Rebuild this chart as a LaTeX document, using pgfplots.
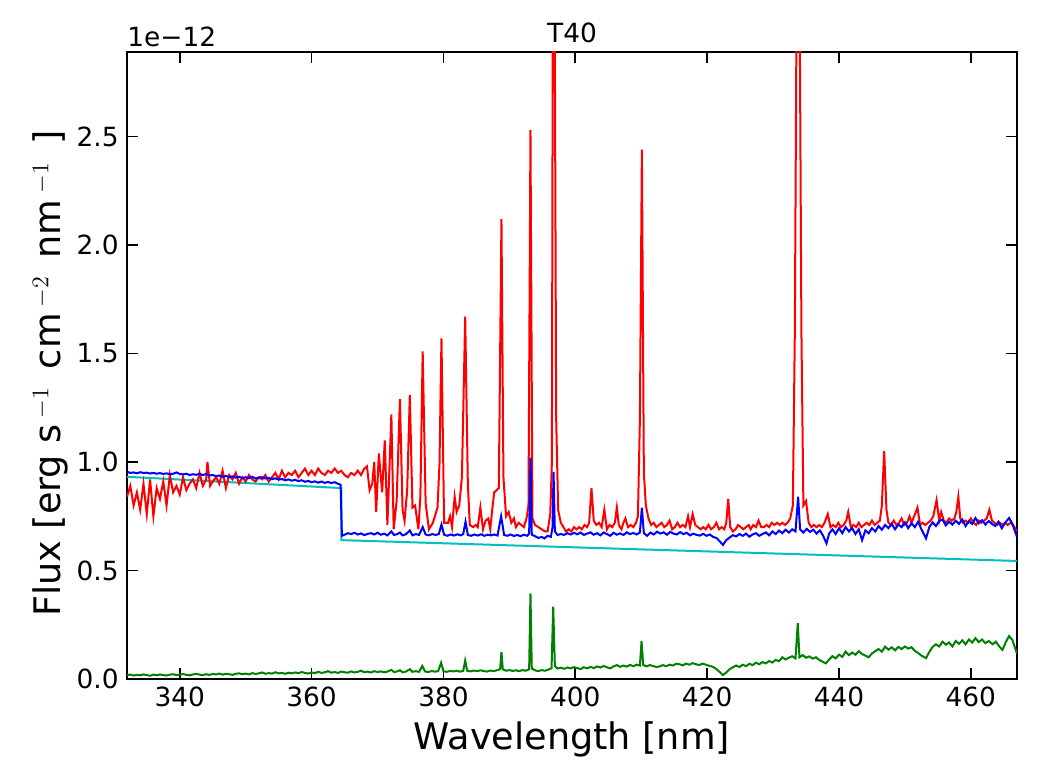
\documentclass[border=0pt]{standalone}
\usepackage{pgfplots}
\pgfplotsset{compat=1.18}
\usepackage{pgfplotstable}
\usepackage{fontspec}
\setmainfont{DejaVu Sans}
\definecolor{mplred}{rgb}{1,0,0}
\definecolor{mplblue}{rgb}{0,0,1}
\definecolor{mplgreen}{rgb}{0,0.5,0}
\definecolor{mplcyan}{rgb}{0,0.75,0.75}

\pgfplotstableread{
x y
332.0 0.932
364.5 0.880
364.5 0.640
467.0 0.544
}\cyantab

\pgfplotstableread{
x y
332.0 0.84
332.5 0.89
333.0 0.80
333.5 0.86
334.0 0.78
334.5 0.90
335.0 0.76
335.5 0.92
336.0 0.75
336.5 0.88
337.0 0.83
337.5 0.91
338.0 0.80
338.5 0.94
339.0 0.86
339.5 0.89
340.0 0.85
340.5 0.93
341.0 0.87
341.5 0.90
342.0 0.92
342.5 0.88
343.0 0.95
343.5 0.89
344.0 0.92
344.2 1.00
344.6 0.89
345.0 0.91
345.5 0.93
346.0 0.90
346.5 0.96
347.0 0.88
347.5 0.94
348.0 0.92
348.5 0.95
349.0 0.90
349.5 0.93
350.0 0.91
350.5 0.94
351.0 0.92
351.5 0.91
352.0 0.93
352.5 0.92
353.0 0.94
353.5 0.91
354.0 0.93
354.5 0.95
355.0 0.92
355.5 0.96
356.0 0.93
356.5 0.95
357.0 0.94
357.5 0.96
358.0 0.93
358.5 0.95
359.0 0.97
359.5 0.94
360.0 0.96
360.5 0.94
361.0 0.97
361.5 0.95
362.0 0.94
362.5 0.96
363.0 0.95
363.5 0.97
364.0 0.95
364.5 0.96
365.0 0.94
365.5 0.93
366.0 0.95
366.5 0.94
367.0 0.96
367.5 0.94
368.0 0.97
368.4 0.98
368.8 0.87
369.2 0.90
369.5 1.00
369.8 0.77
370.2 1.04
370.7 0.86
371.1 1.10
371.5 0.71
372.1 1.22
372.45 0.69
372.9 0.82
373.4 1.29
373.8 0.78
374.1 0.73
374.5 0.87
374.9 1.31
375.3 0.79
375.7 0.80
376.2 0.69
376.5 0.84
376.85 1.51
377.3 0.81
377.8 0.69
378.4 0.72
379.1 0.79
379.4 0.99
379.7 1.57
380.1 0.72
380.7 0.72
381.0 0.75
381.3 0.70
381.7 0.84
382.0 0.77
382.4 0.80
382.8 0.93
383.3 1.67
383.7 0.90
384.0 0.71
384.5 0.70
384.9 0.71
385.2 0.70
385.6 0.79
386.0 0.69
386.4 0.73
386.8 0.74
387.1 0.69
387.4 0.78
387.7 0.86
388.4 0.88
388.8 2.12
389.1 0.93
389.5 0.75
389.9 0.77
390.3 0.72
390.7 0.74
391.0 0.70
391.4 0.72
391.8 0.71
392.2 0.70
392.6 0.74
392.9 0.80
393.2 2.53
393.5 0.74
393.9 0.71
394.4 0.70
394.9 0.69
395.4 0.68
395.8 0.68
396.2 0.76
396.45 1.00
396.6 3.30
396.85 3.30
397.1 1.20
397.4 0.78
397.8 0.72
398.2 0.70
398.6 0.68
399.0 0.69
399.4 0.68
399.8 0.70
400.2 0.69
400.6 0.70
401.0 0.69
401.4 0.71
401.8 0.70
402.1 0.72
402.45 0.88
402.8 0.73
403.2 0.71
403.6 0.72
404.0 0.70
404.4 0.78
404.8 0.69
405.2 0.71
405.6 0.70
406.0 0.72
406.3 0.79
406.6 0.71
407.0 0.69
407.3 0.72
407.6 0.74
408.0 0.70
408.4 0.71
408.8 0.70
409.2 0.72
409.5 0.75
409.8 1.20
410.1 2.44
410.4 0.95
410.7 0.80
411.1 0.74
411.5 0.71
411.9 0.72
412.3 0.70
412.7 0.71
413.1 0.72
413.5 0.70
413.9 0.71
414.3 0.73
414.7 0.69
415.1 0.70
415.5 0.72
415.9 0.70
416.3 0.71
416.7 0.70
417.1 0.75
417.4 0.70
417.8 0.76
418.2 0.71
418.6 0.70
419.0 0.69
419.4 0.70
419.8 0.69
420.2 0.71
420.6 0.69
421.0 0.70
421.4 0.72
421.8 0.69
422.2 0.70
422.6 0.69
422.9 0.72
423.2 0.83
423.5 0.70
423.9 0.68
424.3 0.69
424.7 0.71
425.1 0.70
425.5 0.69
425.9 0.70
426.3 0.71
426.6 0.69
427.0 0.71
427.4 0.70
427.8 0.73
428.2 0.70
428.6 0.70
429.0 0.71
429.4 0.70
429.8 0.72
430.2 0.71
430.6 0.72
431.0 0.71
431.4 0.72
431.8 0.71
432.2 0.72
432.6 0.74
433.0 0.80
433.3 1.60
433.6 3.30
434.0 3.30
434.3 1.60
434.6 0.80
435.0 0.82
435.4 0.72
435.8 0.70
436.2 0.71
436.6 0.70
437.0 0.71
437.4 0.70
437.8 0.72
438.3 0.76
438.7 0.70
439.1 0.71
439.5 0.70
439.9 0.72
440.3 0.70
440.7 0.71
441.1 0.73
441.4 0.77
441.8 0.70
442.2 0.71
442.6 0.70
443.0 0.72
443.4 0.70
443.8 0.71
444.2 0.72
444.6 0.71
445.0 0.73
445.4 0.71
445.8 0.72
446.2 0.73
446.5 0.80
446.85 1.05
447.2 0.78
447.5 0.72
447.9 0.71
448.3 0.73
448.7 0.71
449.1 0.72
449.5 0.74
449.9 0.71
450.3 0.72
450.7 0.75
451.0 0.72
451.4 0.75
451.9 0.79
452.3 0.71
452.7 0.72
453.1 0.71
453.5 0.72
453.9 0.73
454.3 0.75
454.8 0.825
455.2 0.73
455.5 0.77
455.9 0.73
456.3 0.72
456.7 0.74
457.1 0.73
457.5 0.74
457.8 0.77
458.1 0.84
458.4 0.74
458.8 0.72
459.2 0.73
459.6 0.72
460.0 0.74
460.4 0.72
460.8 0.71
461.2 0.73
461.6 0.72
462.0 0.73
462.4 0.74
462.8 0.78
463.2 0.73
463.6 0.72
464.0 0.71
464.4 0.72
464.8 0.71
465.2 0.72
465.6 0.71
466.0 0.72
466.4 0.71
467.0 0.68
}\redtab

\pgfplotstableread{
x y
332.0 0.955
332.5 0.950
333.0 0.952
333.5 0.948
334.0 0.953
334.5 0.950
335.0 0.951
335.5 0.947
336.0 0.950
336.5 0.946
337.0 0.949
337.5 0.945
338.0 0.948
338.5 0.944
339.0 0.946
339.5 0.952
340.0 0.945
340.5 0.943
341.0 0.946
341.5 0.940
342.0 0.944
342.5 0.941
343.0 0.946
343.5 0.940
344.0 0.945
344.5 0.938
345.0 0.940
345.5 0.935
346.0 0.938
346.5 0.932
347.0 0.936
347.5 0.930
348.0 0.934
348.5 0.928
349.0 0.932
349.5 0.926
350.0 0.930
350.5 0.925
351.0 0.932
351.5 0.924
352.0 0.928
352.5 0.930
353.0 0.924
353.5 0.927
354.0 0.921
354.5 0.925
355.0 0.919
355.5 0.922
356.0 0.916
356.5 0.920
357.0 0.914
357.5 0.918
358.0 0.912
358.5 0.916
359.0 0.909
359.5 0.913
360.0 0.907
360.5 0.911
361.0 0.905
361.5 0.910
362.0 0.904
362.5 0.908
363.0 0.903
363.5 0.907
364.0 0.900
364.4 0.895
364.6 0.660
365.0 0.665
365.5 0.672
366.0 0.668
366.5 0.674
367.0 0.666
367.5 0.671
368.0 0.663
368.5 0.669
369.0 0.672
369.5 0.666
370.0 0.674
370.5 0.665
371.0 0.670
371.5 0.662
372.1 0.680
372.5 0.664
373.0 0.668
373.4 0.675
373.8 0.662
374.3 0.667
374.9 0.685
375.3 0.662
375.8 0.668
376.3 0.664
376.85 0.700
377.3 0.666
377.8 0.662
378.3 0.668
378.8 0.664
379.3 0.668
379.7 0.712
380.1 0.665
380.6 0.660
381.1 0.666
381.6 0.661
382.1 0.667
382.6 0.662
383.0 0.668
383.35 0.725
383.7 0.664
384.2 0.660
384.7 0.666
385.2 0.661
385.7 0.667
386.2 0.660
386.7 0.665
387.2 0.662
387.7 0.666
388.2 0.661
388.75 0.750
389.2 0.664
389.7 0.660
390.2 0.666
390.7 0.659
391.2 0.664
391.7 0.658
392.2 0.665
392.7 0.660
393.0 0.670
393.2 1.020
393.4 0.665
393.9 0.658
394.4 0.650
394.9 0.655
395.3 0.648
395.8 0.660
396.3 0.655
396.55 0.700
396.7 0.955
396.9 0.680
397.3 0.664
397.8 0.668
398.3 0.664
398.8 0.672
399.3 0.666
399.8 0.674
400.3 0.667
400.8 0.675
401.3 0.664
401.8 0.670
402.3 0.676
402.8 0.665
403.3 0.672
403.8 0.662
404.3 0.675
404.8 0.668
405.3 0.660
405.8 0.674
406.3 0.665
406.8 0.671
407.3 0.664
407.8 0.676
408.3 0.668
408.8 0.673
409.3 0.666
409.8 0.675
410.1 0.790
410.4 0.672
410.9 0.660
411.4 0.675
411.9 0.666
412.4 0.679
412.9 0.670
413.4 0.676
413.9 0.665
414.4 0.678
414.9 0.670
415.4 0.666
415.9 0.677
416.4 0.668
416.9 0.674
417.4 0.662
417.9 0.670
418.4 0.664
418.9 0.661
419.4 0.669
419.9 0.660
420.4 0.666
420.9 0.655
421.4 0.650
421.9 0.635
422.4 0.618
422.9 0.640
423.4 0.652
423.9 0.663
424.4 0.657
424.9 0.668
425.4 0.660
425.9 0.670
426.4 0.656
426.9 0.666
427.4 0.672
427.9 0.660
428.4 0.668
428.9 0.676
429.4 0.662
429.9 0.680
430.4 0.668
430.9 0.684
431.4 0.672
431.9 0.688
432.4 0.675
432.9 0.690
433.4 0.680
433.8 0.840
434.1 0.690
434.6 0.675
435.1 0.692
435.6 0.678
436.1 0.688
436.6 0.670
437.1 0.685
437.6 0.660
438.1 0.625
438.5 0.670
439.0 0.690
439.5 0.668
440.0 0.695
440.5 0.672
441.0 0.700
441.5 0.680
442.0 0.695
442.5 0.668
443.0 0.690
443.5 0.640
444.0 0.685
444.5 0.672
445.0 0.695
445.5 0.680
446.0 0.705
446.5 0.688
447.0 0.710
447.5 0.695
448.0 0.715
448.5 0.690
449.0 0.712
449.5 0.700
450.0 0.722
450.5 0.695
451.0 0.718
451.5 0.700
452.0 0.725
452.5 0.690
453.2 0.648
453.7 0.700
454.2 0.722
454.7 0.705
455.2 0.728
455.7 0.735
456.2 0.708
456.7 0.725
457.2 0.712
457.7 0.730
458.2 0.715
458.7 0.735
459.2 0.705
459.7 0.728
460.2 0.715
460.7 0.742
461.2 0.718
461.7 0.732
462.2 0.712
462.7 0.728
463.2 0.715
463.7 0.705
464.2 0.725
464.7 0.695
465.2 0.720
465.8 0.742
466.3 0.715
467.0 0.655
}\bluetab

\pgfplotstableread{
x y
332.0 0.018
332.5 0.020
333.0 0.016
333.5 0.019
334.0 0.017
334.5 0.021
335.0 0.018
335.5 0.015
336.0 0.020
336.5 0.017
337.0 0.021
337.5 0.018
338.0 0.016
338.5 0.020
339.0 0.022
339.5 0.018
340.0 0.020
340.5 0.023
341.0 0.019
341.5 0.017
342.0 0.021
342.5 0.024
343.0 0.020
343.5 0.018
344.0 0.022
344.5 0.019
345.0 0.023
345.5 0.021
346.0 0.025
346.5 0.020
347.0 0.024
347.5 0.022
348.0 0.019
348.5 0.024
349.0 0.026
349.5 0.022
350.0 0.025
350.5 0.021
351.0 0.027
351.5 0.023
352.0 0.026
352.5 0.030
353.0 0.024
353.5 0.027
354.0 0.025
354.5 0.031
355.0 0.026
355.5 0.028
356.0 0.024
356.5 0.029
357.0 0.026
357.5 0.030
358.0 0.027
358.5 0.032
359.0 0.028
359.5 0.025
360.0 0.030
360.5 0.027
361.0 0.033
361.5 0.028
362.0 0.031
362.5 0.036
363.0 0.029
363.5 0.032
364.0 0.028
364.5 0.034
365.0 0.031
365.5 0.029
366.0 0.035
366.5 0.030
367.0 0.033
367.5 0.038
368.0 0.031
368.5 0.034
369.0 0.030
369.5 0.036
370.0 0.032
370.5 0.035
371.0 0.031
371.5 0.034
372.1 0.042
372.5 0.032
373.0 0.035
373.4 0.040
373.8 0.031
374.3 0.034
374.9 0.045
375.3 0.033
375.8 0.036
376.3 0.033
376.8 0.060
377.2 0.035
377.7 0.032
378.2 0.037
378.7 0.034
379.2 0.036
379.65 0.075
380.0 0.036
380.5 0.033
381.0 0.037
381.5 0.035
382.0 0.038
382.5 0.034
383.0 0.037
383.3 0.085
383.6 0.038
384.1 0.035
384.6 0.039
385.1 0.036
385.6 0.040
386.1 0.037
386.6 0.034
387.1 0.039
387.6 0.036
388.1 0.040
388.6 0.045
388.8 0.125
389.0 0.045
389.5 0.038
390.0 0.041
390.5 0.037
391.0 0.040
391.5 0.036
392.0 0.041
392.5 0.038
393.0 0.045
393.2 0.395
393.4 0.048
393.9 0.040
394.4 0.036
394.9 0.041
395.4 0.038
395.9 0.043
396.4 0.050
396.65 0.333
396.9 0.060
397.3 0.048
397.8 0.052
398.3 0.047
398.8 0.053
399.3 0.049
399.8 0.055
400.3 0.050
400.8 0.046
401.3 0.054
401.8 0.049
402.3 0.056
402.8 0.050
403.3 0.058
403.8 0.053
404.3 0.060
404.8 0.054
405.3 0.049
405.8 0.058
406.3 0.064
406.8 0.056
407.3 0.062
407.8 0.057
408.3 0.065
408.8 0.059
409.3 0.066
409.8 0.062
410.05 0.175
410.3 0.065
410.8 0.058
411.3 0.064
411.8 0.060
412.3 0.055
412.8 0.058
413.3 0.064
413.8 0.059
414.3 0.066
414.8 0.062
415.3 0.070
415.8 0.068
416.3 0.063
416.8 0.071
417.3 0.066
417.8 0.073
418.3 0.068
418.8 0.064
419.3 0.071
419.8 0.066
420.3 0.061
420.8 0.057
421.3 0.048
421.8 0.035
422.4 0.018
422.9 0.030
423.4 0.045
423.9 0.054
424.4 0.062
424.9 0.055
425.4 0.066
425.9 0.059
426.4 0.070
426.9 0.064
427.4 0.075
427.9 0.068
428.4 0.078
428.9 0.072
429.4 0.083
429.9 0.076
430.4 0.088
430.9 0.082
431.4 0.100
431.9 0.090
432.4 0.098
432.9 0.105
433.4 0.095
433.75 0.257
434.0 0.100
434.5 0.110
435.0 0.098
435.5 0.104
436.0 0.094
436.5 0.100
437.0 0.088
437.5 0.080
438.0 0.072
438.5 0.090
439.0 0.105
439.5 0.095
440.0 0.112
440.5 0.102
441.0 0.126
441.5 0.110
442.0 0.122
442.5 0.112
443.0 0.128
443.5 0.115
444.0 0.108
444.5 0.100
445.0 0.118
445.5 0.128
446.0 0.138
446.5 0.126
447.0 0.149
447.5 0.135
448.0 0.146
448.5 0.132
449.0 0.148
449.5 0.138
450.0 0.150
450.5 0.140
451.0 0.146
451.5 0.130
452.0 0.120
452.5 0.108
453.2 0.096
453.7 0.125
454.2 0.148
454.7 0.160
455.2 0.150
455.7 0.172
456.2 0.158
456.7 0.168
457.2 0.150
457.7 0.175
458.2 0.162
458.7 0.178
459.2 0.160
459.7 0.182
460.2 0.168
460.7 0.188
461.2 0.170
461.7 0.182
462.2 0.165
462.7 0.175
463.3 0.160
463.8 0.172
464.3 0.150
464.8 0.134
465.3 0.170
465.8 0.198
466.3 0.180
467.0 0.117
}\greentab

\begin{document}
\begin{tikzpicture}
\useasboundingbox (-63.5pt,-50.5pt) rectangle (456.5pt,339.5pt);
\begin{axis}[
  at={(0pt,0pt)}, anchor=south west,
  scale only axis, width=445pt, height=313.5pt,
  xmin=332, xmax=467, ymin=0, ymax=2.89,
  xtick={340,360,380,400,420,440,460},
  ytick={0,0.5,1,1.5,2,2.5},
  yticklabel style={/pgf/number format/fixed, /pgf/number format/fixed zerofill, /pgf/number format/precision=1},
  /pgf/number format/assume math mode=true,
  tick align=inside,
  major tick length=5.5pt,
  minor tick num=0,
  every tick/.style={black, line width=0.85pt},
  axis line style={black, line width=1pt},
  tick label style={font=\fontsize{13.2}{15}\selectfont},
  xticklabel style={inner sep=3.6pt},
  yticklabel style={inner sep=4pt},
  every axis x label/.style={at={(axis description cs:0.5,-0.11324)}, anchor=base, font=\fontsize{18.3}{22}\selectfont},
  every axis y label/.style={at={(axis description cs:-0.07416,0.48724)}, rotate=90, anchor=base, font=\fontsize{18.3}{22}\selectfont},
  every axis title/.style={at={(axis description cs:0.5,1.0155)}, anchor=base, font=\fontsize{13.2}{15}\selectfont},
  xlabel={Wavelength [nm]},
  ylabel={Flux [erg s\hspace{3pt}$^{-1}$\hspace{3pt} cm\hspace{3pt}$^{-2}$\hspace{3pt} nm\hspace{3pt}$^{-1}$\hspace{3pt} ]},
  title={T40},
  clip=true,
]
\addplot[mplcyan, line width=1pt] table[x=x,y=y] {\cyantab};
\addplot[mplred, line width=1pt] table[x=x,y=y] {\redtab};
\addplot[mplblue, line width=1pt] table[x=x,y=y] {\bluetab};
\addplot[mplgreen, line width=1pt] table[x=x,y=y] {\greentab};
\end{axis}
\node[anchor=base west, inner sep=0pt, font=\fontsize{13.2}{15}\selectfont] at (0pt,316.15pt) {1e−12};
\end{tikzpicture}
\end{document}
